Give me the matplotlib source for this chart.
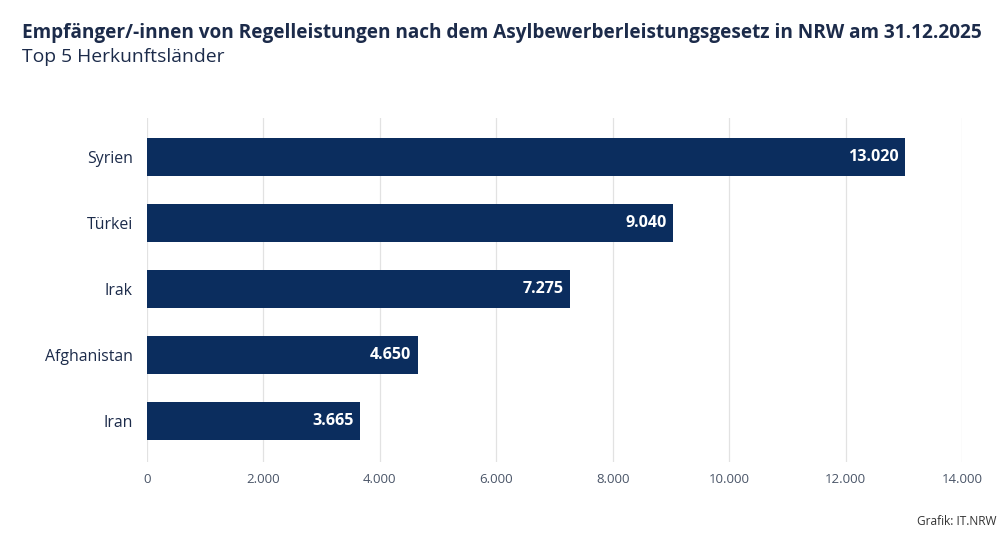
import matplotlib
matplotlib.use("Agg")
import matplotlib.pyplot as plt
from matplotlib.ticker import FuncFormatter

plt.rcParams.update({
    "font.family": ["Open Sans", "DejaVu Sans"],
})

# data
countries = ["Syrien", "Türkei", "Irak", "Afghanistan", "Iran"]
values = [13020, 9040, 7275, 4650, 3665]
xticks = [0, 2000, 4000, 6000, 8000, 10000, 12000, 14000]

navy = "#0b2d5e"
text_dark = "#1c2b4a"


def de_fmt(v, pos=None):
    return f"{int(v):,}".replace(",", ".")


fig = plt.figure(figsize=(9.99, 5.36), dpi=100)
ax = fig.add_axes([0.147, 0.138, 0.816, 0.642])

ypos = list(range(len(countries)))[::-1]
ax.barh(ypos, values, height=0.57, color=navy, zorder=3)

for y, v in zip(ypos, values):
    ax.text(v - 110, y, de_fmt(v), ha="right", va="center",
            color="white", fontsize=11.6, fontweight="bold", zorder=4)

ax.set_yticks(ypos)
ax.set_yticklabels(countries, fontsize=11.4, color=text_dark)
ax.set_xticks(xticks)
ax.xaxis.set_major_formatter(FuncFormatter(de_fmt))
ax.set_xlim(0, 14000)
ax.set_ylim(-0.62, 4.59)

ax.tick_params(axis="y", length=0, pad=10)
ax.tick_params(axis="x", length=0, pad=8, labelsize=9.5, labelcolor="#4a5568")
ax.grid(axis="x", color="#e2e2e2", linewidth=0.9, zorder=0)
for s in ax.spines.values():
    s.set_visible(False)

fig.text(0.022, 0.93, "Empfänger/-innen von Regelleistungen nach dem Asylbewerberleistungsgesetz in NRW am 31.12.2025",
         fontsize=13.7, fontweight="bold", color=text_dark, ha="left", va="baseline")
fig.text(0.022, 0.885, "Top 5 Herkunftsländer", fontsize=13.9, color=text_dark,
         ha="left", va="baseline")
fig.text(0.997, 0.02, "Grafik: IT.NRW", fontsize=8.6, color="#333333", ha="right", va="baseline")

fig.savefig("out.png", dpi=100)
